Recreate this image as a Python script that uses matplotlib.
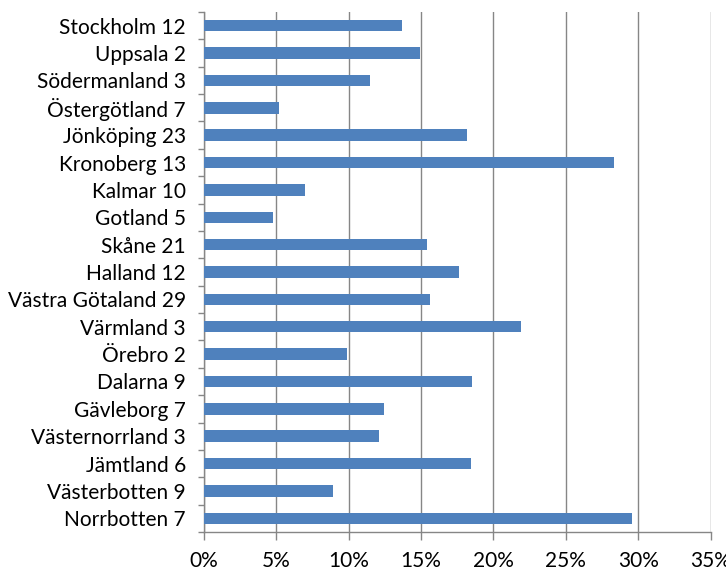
import matplotlib
matplotlib.use("Agg")
import matplotlib.pyplot as plt
import numpy as np
from matplotlib.ticker import FixedLocator, PercentFormatter

plt.rcParams['font.family'] = ['Lato', 'DejaVu Sans']

categories = [
    "Stockholm 12", "Uppsala 2", "Södermanland 3", "Östergötland 7", "Jönköping 23",
    "Kronoberg 13", "Kalmar 10", "Gotland 5", "Skåne 21", "Halland 12",
    "Västra Götaland 29", "Värmland 3", "Örebro 2", "Dalarna 9", "Gävleborg 7",
    "Västernorrland 3", "Jämtland 6", "Västerbotten 9", "Norrbotten 7",
]
values = [
    13.7, 14.9, 11.5, 5.2, 18.2,
    28.3, 7.0, 4.8, 15.4, 17.6,
    15.6, 21.9, 9.9, 18.55, 12.45,
    12.1, 18.45, 8.9, 29.6,
]
xticks = [0, 5, 10, 15, 20, 25, 30, 35]

grey = "#868686"
fig = plt.figure(figsize=(7.26, 5.74), dpi=100)
ax = fig.add_axes([204/726, 1-532/574, (710.5-204)/726, (532-12)/574])

y = np.arange(len(categories))
ax.barh(y, values, height=0.42, color="#4F81BD", zorder=3)

ax.set_xlim(0, 35)
ax.set_ylim(len(categories) - 0.5, -0.5)
ax.set_xticks(xticks)
ax.xaxis.set_major_formatter(PercentFormatter(decimals=0))
ax.set_yticks(y)
ax.set_yticklabels(categories)
ax.yaxis.set_minor_locator(FixedLocator(np.arange(len(categories) + 1) - 0.5))

ax.grid(axis='x', color=grey, linewidth=1.0, zorder=0)
ax.set_axisbelow(True)
for s in ['top', 'right']:
    ax.spines[s].set_visible(False)
for s in ['left', 'bottom']:
    ax.spines[s].set_color(grey)
    ax.spines[s].set_linewidth(1.0)

ax.tick_params(axis='y', which='major', length=0, pad=13, labelsize=15)
ax.tick_params(axis='y', which='minor', length=4.5, width=1.0, color=grey, direction='out')
ax.tick_params(axis='x', which='major', length=6, width=1.0, color=grey, direction='out',
               pad=8, labelsize=15)

fig.savefig("out.png", dpi=100)
